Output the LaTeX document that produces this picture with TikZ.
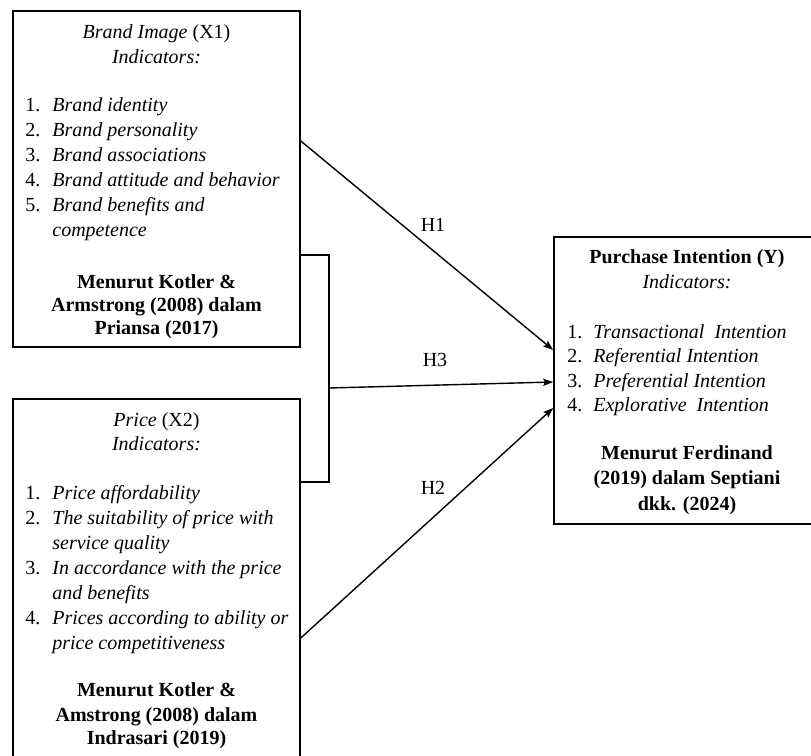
\documentclass[tikz,border=0pt]{standalone}
\usepackage{fontspec}
\setmainfont{Liberation Serif}
\usetikzlibrary{arrows.meta,fit}
\begin{document}
\begin{tikzpicture}[x=0.5pt,y=-0.5pt,
  box/.style={draw, line width=0.8pt, inner sep=0pt},
  txt/.style={font=\fontsize{10}{12}\selectfont, inner sep=0pt, anchor=base},
  lst/.style={txt, anchor=base west},
  arr/.style={line width=0.7pt, -{Stealth[length=5pt,width=3.6pt,inset=0.8pt]}},
  brk/.style={line width=0.8pt}]
\useasboundingbox (0,0) rectangle (811,756);
\fill[white] (0,0) rectangle (811,756);
% box corners
\coordinate (b1tl) at (13,11);  \coordinate (b1br) at (300,347);
\coordinate (b2tl) at (13,399); \coordinate (b2br) at (300,790);
\coordinate (b3tl) at (554,237); \coordinate (b3br) at (822,524);
\node[box, fit=(b1tl)(b1br)] (b1) {};
\node[box, fit=(b2tl)(b2br)] (b2) {};
\node[box, fit=(b3tl)(b3br)] (b3) {};
% Box 1 text
\node[txt] (b1t) at (156.5,38) {\textit{Brand Image} (X1)};
\node[txt] (b1i) at (156.5,63) {\textit{Indicators:}};
\node[lst] (b1n1) at (25,111) {1.}; \node[lst] (b1l1) at (52,111) {\textit{Brand identity}};
\node[lst] (b1n2) at (25,136) {2.}; \node[lst] (b1l2) at (52,136) {\textit{Brand personality}};
\node[lst] (b1n3) at (25,161) {3.}; \node[lst] (b1l3) at (52,161) {\textit{Brand associations}};
\node[lst] (b1n4) at (25,186) {4.}; \node[lst] (b1l4) at (52,186) {\textit{Brand attitude and behavior}};
\node[lst] (b1n5) at (25,211) {5.}; \node[lst] (b1l5) at (52,211) {\textit{Brand benefits and}};
\node[lst] (b1l6) at (52,236) {\textit{competence}};
\node[txt] (b1m1) at (156.5,288) {\textbf{Menurut Kotler \&}};
\node[txt] (b1m2) at (156.5,311) {\textbf{Armstrong (2008) dalam}};
\node[txt] (b1m3) at (156.5,334) {\textbf{Priansa (2017)}};
% Box 2 text
\node[txt] (b2t) at (156.5,426) {\textit{Price} (X2)};
\node[txt] (b2i) at (156.5,450) {\textit{Indicators:}};
\node[lst] (b2n1) at (25,499) {1.}; \node[lst] (b2l1) at (52,499) {\textit{Price affordability}};
\node[lst] (b2n2) at (25,524) {2.}; \node[lst] (b2l2) at (52,524) {\textit{The suitability of price with}};
\node[lst] (b2l3) at (52,549) {\textit{service quality}};
\node[lst] (b2n3) at (25,574) {3.}; \node[lst] (b2l4) at (52,574) {\textit{In accordance with the price}};
\node[lst] (b2l5) at (52,599) {\textit{and benefits}};
\node[lst] (b2n4) at (25,624) {4.}; \node[lst] (b2l6) at (52,624) {\textit{Prices according to ability or}};
\node[lst] (b2l7) at (52,649) {\textit{price competitiveness}};
\node[txt] (b2m1) at (156.5,696) {\textbf{Menurut Kotler \&}};
\node[txt] (b2m2) at (156.5,721) {\textbf{Amstrong (2008) dalam}};
\node[txt] (b2m3) at (156.5,744) {\textbf{Indrasari (2019)}};
% Box 3 text
\node[txt] (b3t) at (687,263) {\textbf{Purchase Intention (Y)}};
\node[txt] (b3i) at (687,288) {\textit{Indicators:}};
\node[lst] (b3n1) at (567,338) {1.}; \node[lst] (b3l1) at (593,338) {\textit{Transactional\ \ Intention}};
\node[lst] (b3n2) at (567,362) {2.}; \node[lst] (b3l2) at (593,362) {\textit{Referential Intention}};
\node[lst] (b3n3) at (567,387) {3.}; \node[lst] (b3l3) at (593,387) {\textit{Preferential Intention}};
\node[lst] (b3n4) at (567,411) {4.}; \node[lst] (b3l4) at (593,411) {\textit{Explorative\ \ Intention}};
\node[txt] (b3m1) at (687,459) {\textbf{Menurut Ferdinand}};
\node[txt] (b3m2) at (687,484) {\textbf{(2019) dalam Septiani}};
\node[txt] (b3m3) at (687,510) {\textbf{dkk. (2024)}};
% connectors
\coordinate (h1s) at (b1.east |- 0,141);
\coordinate (h1e) at (b3.west |- 0,350);
\coordinate (h2s) at (b2.east |- 0,638);
\coordinate (h2e) at (b3.west |- 0,408);
\coordinate (brt) at (329,255);
\coordinate (brb) at (329,482);
\coordinate (h3s) at (329,388);
\coordinate (h3e) at (b3.west |- 0,382);
\draw[brk] (b1.east |- brt) -- (brt) -- (brb) -- (b2.east |- brb);
\draw[arr] (h1s) -- (h1e);
\draw[arr] (h3s) -- (h3e);
\draw[arr] (h2s) -- (h2e);
\node[txt] (lh1) at (433,231) {H1};
\node[txt] (lh3) at (435,366) {H3};
\node[txt] (lh2) at (433,494) {H2};
\end{tikzpicture}
\end{document}
